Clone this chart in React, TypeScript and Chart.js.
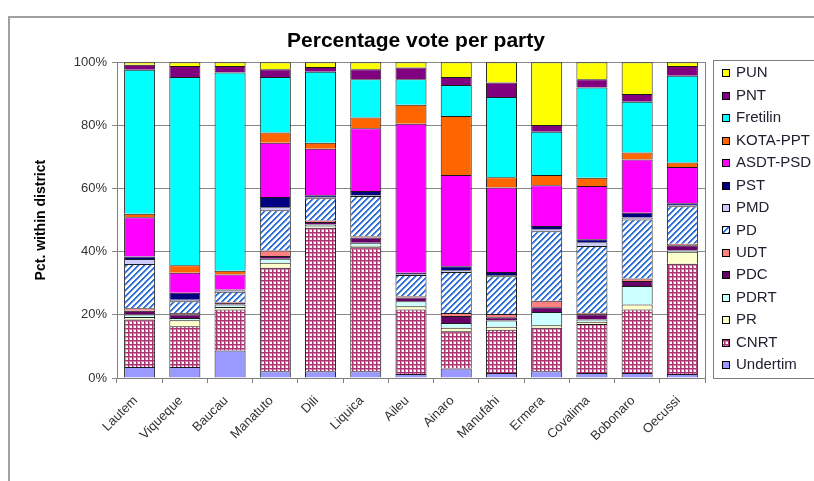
import React, { useEffect, useRef } from 'react';
import { Chart, registerables } from 'chart.js';
Chart.register(...registerables);

const districts = ['Lautem', 'Viqueque', 'Baucau', 'Manatuto', 'Dili', 'Liquica', 'Aileu', 'Ainaro', 'Manufahi', 'Ermera', 'Covalima', 'Bobonaro', 'Oecussi'];

const yTicks = [0, 20, 40, 60, 80, 100];

const undertim = [3.5, 3.5, 8.7, 2.1, 2.1, 2.1, 1.3, 3.0, 1.6, 2.1, 1.6, 1.6, 1.3];
const cnrt = [15.0, 12.9, 13.0, 32.8, 45.5, 39.3, 20.4, 11.8, 13.7, 13.8, 15.5, 20.1, 34.9];
const pr = [0.8, 1.9, 0.8, 1.6, 0.4, 0.5, 1.0, 1.1, 0.9, 0.8, 0.7, 1.6, 3.8];
const pdrt = [0.8, 0.7, 0.8, 1.3, 0.6, 0.9, 1.6, 1.5, 2.0, 4.2, 0.7, 5.8, 0.4];
const pdc = [1.2, 1.1, 0.5, 0.8, 0.8, 1.7, 1.2, 2.2, 1.0, 1.5, 1.7, 1.6, 1.6];
const udt = [0.8, 0.5, 0.3, 1.8, 0.5, 0.4, 0.4, 1.0, 1.1, 2.1, 0.4, 0.8, 0.5];
const pd = [14.0, 3.7, 3.2, 12.7, 7.0, 12.7, 6.7, 13.0, 11.9, 22.0, 21.2, 18.7, 11.9];
const pmd = [1.6, 0.5, 0.4, 1.0, 0.3, 0.3, 0.2, 0.5, 0.4, 0.5, 1.2, 0.6, 0.4];
const pst = [0.8, 2.2, 0.3, 3.2, 0.7, 1.3, 0.5, 1.3, 1.0, 1.1, 0.9, 1.5, 0.5];
const asdtPsd = [12.4, 6.3, 4.8, 17.2, 14.7, 19.9, 47.2, 28.9, 26.7, 12.9, 16.9, 16.9, 11.5];
const kotaPpt = [1.1, 2.4, 1.2, 3.2, 1.9, 3.4, 6.0, 18.7, 3.3, 3.3, 2.6, 2.2, 1.4];
const fretilin = [45.6, 59.6, 62.7, 17.6, 22.5, 12.1, 8.1, 9.8, 25.4, 13.7, 28.6, 16.1, 27.5];
const pnt = [1.6, 3.5, 2.1, 2.5, 1.5, 3.2, 3.7, 2.5, 4.6, 2.1, 2.6, 2.4, 3.1];
const pun = [0.8, 1.2, 1.2, 2.2, 1.5, 2.2, 1.7, 4.7, 6.4, 19.9, 5.4, 10.1, 1.2];

const FONT = "Arial, 'Liberation Sans', sans-serif";

function makeChecker(): CanvasPattern | string {
  const c = document.createElement('canvas');
  c.width = 4; c.height = 4;
  const g = c.getContext('2d');
  if (!g) return '#993366';
  g.fillStyle = '#ffffff';
  g.fillRect(0, 0, 4, 4);
  g.fillStyle = '#d28cb2';
  g.fillRect(0, 0, 4, 2);
  g.fillRect(0, 0, 2, 4);
  g.fillStyle = '#a8336f';
  g.fillRect(0, 0, 4, 1);
  g.fillRect(0, 0, 1, 4);
  return g.createPattern(c, 'repeat') || '#993366';
}

function makeHatch(): CanvasPattern | string {
  const n = 6;
  const c = document.createElement('canvas');
  c.width = n; c.height = n;
  const g = c.getContext('2d');
  if (!g) return '#3377dd';
  for (let x = 0; x < n; x++) {
    for (let y = 0; y < n; y++) {
      const k = (x + y) % n;
      g.fillStyle = k < 2 ? '#2f6fd6' : k === 2 ? '#8ab4ee' : '#ffffff';
      g.fillRect(x, y, 1, 1);
    }
  }
  return g.createPattern(c, 'repeat') || '#3377dd';
}

const framePlugin = {
  id: 'frame',
  beforeDraw(chart: any) {
    const ctx = chart.ctx;
    ctx.save();
    ctx.fillStyle = '#ffffff';
    ctx.fillRect(0, 0, chart.width, chart.height);
    ctx.strokeStyle = '#a0a0a0';
    ctx.lineWidth = 2;
    ctx.strokeRect(9, 17, chart.width + 40, chart.height + 40);
    ctx.restore();
  },
};

const legendPlugin = {
  id: 'boxLegend',
  afterDraw(chart: any) {
    const ctx = chart.ctx;
    const ds = chart.data.datasets;
    const n = ds.length;
    ctx.save();
    ctx.strokeStyle = '#808080';
    ctx.lineWidth = 1;
    ctx.strokeRect(713.5, 60.5, 200, 318);
    ctx.font = `15px ${FONT}`;
    ctx.textBaseline = 'middle';
    ctx.textAlign = 'left';
    for (let i = 0; i < n; i++) {
      const d = ds[n - 1 - i];
      const y = 73.3 + i * 22.45;
      const top = Math.round(y - 4);
      ctx.fillStyle = d.backgroundColor;
      ctx.fillRect(722, top, 8, 8);
      ctx.strokeStyle = '#000000';
      ctx.strokeRect(722.5, top + 0.5, 7, 7);
      ctx.fillStyle = '#202030';
      ctx.fillText(d.label, 736, y);
    }
    ctx.restore();
  },
};

export default function App() {
  const ref = useRef<HTMLCanvasElement>(null);
  useEffect(() => {
    document.body.style.margin = '0';
    const canvas = ref.current;
    if (!canvas) return;
    const checker = makeChecker();
    const hatch = makeHatch();
    const series: [string, number[], any][] = [
      ['Undertim', undertim, '#9999ff'],
      ['CNRT', cnrt, checker],
      ['PR', pr, '#ffffcc'],
      ['PDRT', pdrt, '#ccffff'],
      ['PDC', pdc, '#660066'],
      ['UDT', udt, '#ff8080'],
      ['PD', pd, hatch],
      ['PMD', pmd, '#ccccff'],
      ['PST', pst, '#000080'],
      ['ASDT-PSD', asdtPsd, '#ff00ff'],
      ['KOTA-PPT', kotaPpt, '#ff6600'],
      ['Fretilin', fretilin, '#00ffff'],
      ['PNT', pnt, '#800080'],
      ['PUN', pun, '#ffff00'],
    ];
    const chart = new Chart(canvas, {
      type: 'bar',
      data: {
        labels: districts,
        datasets: series.map(([label, data, color]) => ({
          label,
          data,
          backgroundColor: color,
          borderColor: '#1a1a1a',
          borderWidth: 1,
          categoryPercentage: 1,
          barPercentage: 0.686,
        })),
      },
      options: {
        responsive: false,
        animation: false,
        events: [],
        layout: { padding: { left: 18, right: 0, top: 0, bottom: 0 } },
        plugins: {
          legend: { display: false },
          tooltip: { enabled: false },
          title: {
            display: true,
            text: 'Percentage vote per party',
            color: '#000000',
            font: { family: FONT, size: 21, weight: 'bold' },
            padding: { top: 29, bottom: 8 },
          },
        },
        scales: {
          x: {
            stacked: true,
            offset: true,
            grid: { display: true, drawOnChartArea: false, drawTicks: true, tickLength: 5, color: '#808080', offset: true },
            border: { display: true, color: '#808080' },
            ticks: { maxRotation: 45, minRotation: 45, color: '#333333', padding: 10, labelOffset: -4, font: { family: FONT, size: 13 }, autoSkip: false },
            afterFit: (s: any) => { s.height = 103; },
          },
          y: {
            stacked: true,
            min: 0,
            max: 100,
            afterBuildTicks: (s: any) => { s.ticks = yTicks.map((v) => ({ value: v })); },
            ticks: { callback: (v: any) => `${v}%`, color: '#333333', padding: 5, font: { family: FONT, size: 13 } },
            grid: { color: '#888888', tickLength: 5 },
            border: { display: true, color: '#808080' },
            title: { display: true, text: 'Pct. within district', color: '#000000', font: { family: FONT, size: 14, weight: 'bold' }, padding: { top: 15, bottom: 0 } },
            afterFit: (s: any) => { s.width = 99; },
          },
          y2: {
            type: 'linear',
            position: 'right',
            min: 0,
            max: 1,
            display: true,
            grid: { display: false, drawOnChartArea: false },
            ticks: { display: false },
            border: { display: true, color: '#808080' },
            afterFit: (s: any) => { s.width = 109; },
          },
        },
      },
      plugins: [framePlugin, legendPlugin],
    } as any);
    return () => chart.destroy();
  }, []);
  return (
    <div style={{ position: 'absolute', left: 0, top: 0, width: 814, height: 481, overflow: 'hidden', background: '#ffffff' }}>
      <canvas ref={ref} width={814} height={481} style={{ display: 'block', width: 814, height: 481 }} />
    </div>
  );
}
